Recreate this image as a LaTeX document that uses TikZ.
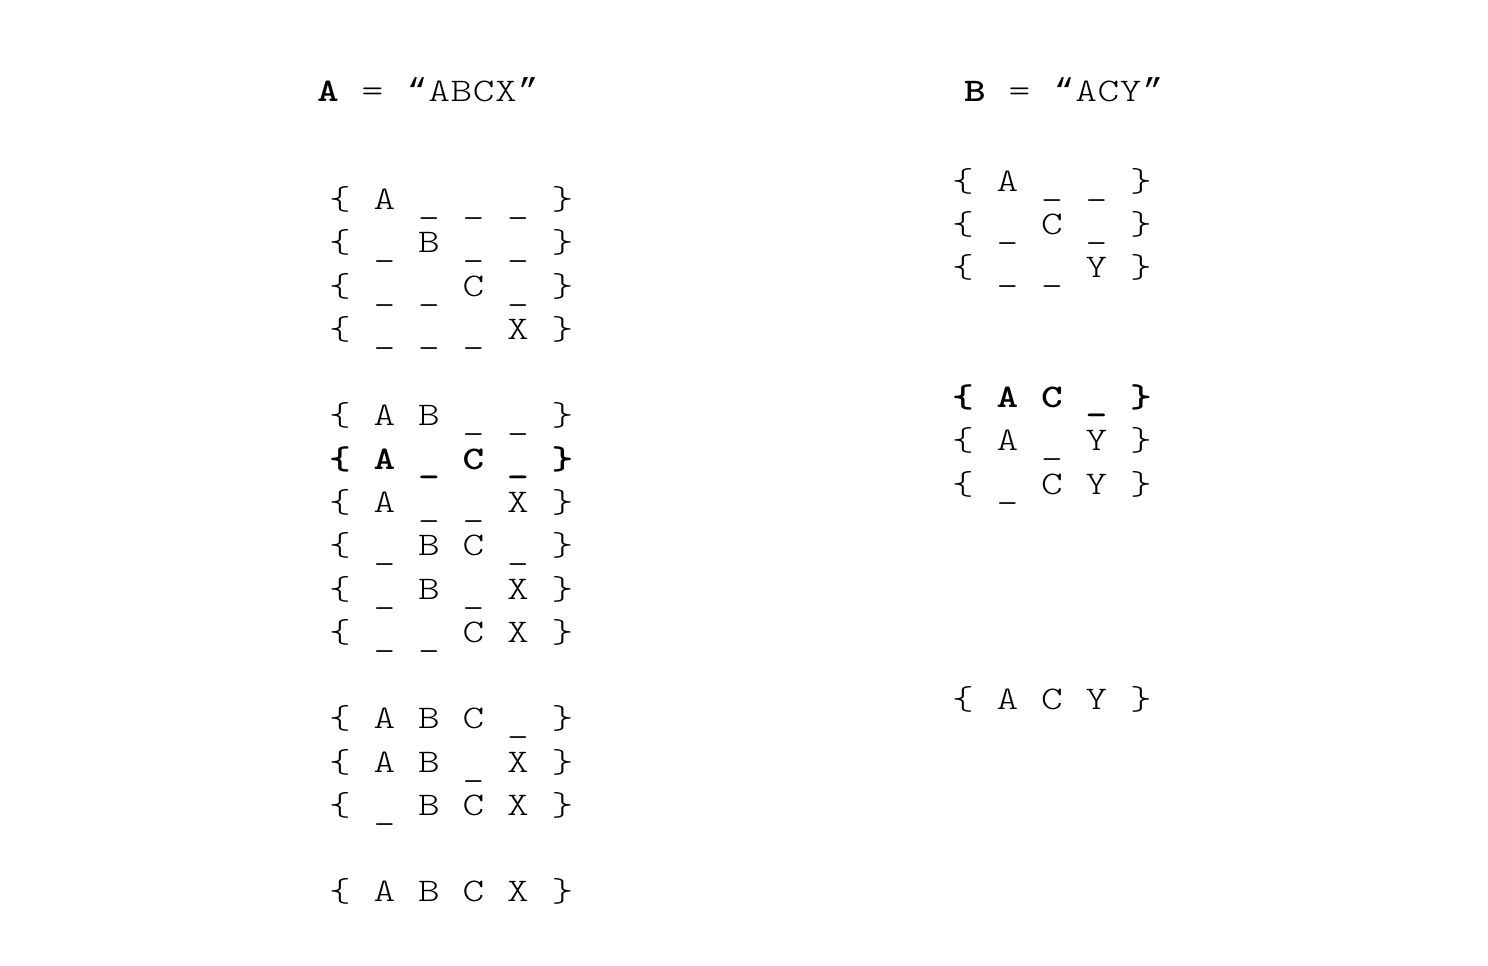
\documentclass[tikz,border=0pt]{standalone}
\usepackage{fontspec}
\newfontfamily\courfont[FakeStretch=1.25]{Latin Modern Mono Light}
\newfontfamily\quotefont{Liberation Mono}
\newcommand\us{\raisebox{-2pt}{\_}}
\newcommand\seqrow[5][]{%
  \foreach \c [count=\i from 0] in {#5}
    \node[ch,#1] (#2-\i) at (#3+44.5*\i,#4) {\c};}
\newcommand\headrow[4]{%
  \foreach \c [count=\i from 0] in {#4}
    \node[ch] (#1-\i) at (#2+22.25*\i,#3) {\c};}
\begin{document}
\begin{tikzpicture}[x=0.5pt,y=-0.5pt,
  ch/.style={anchor=base,inner sep=0pt,outer sep=0pt,font=\courfont\fontsize{16.5}{20}\selectfont},
  strong/.style={font=\courfont\bfseries\fontsize{16.5}{20}\selectfont}]
\useasboundingbox[fill=white] (0,0) rectangle (1488,965);
% headers
\node[ch,strong] (hA) at (328,101) {A};
\node[ch] (eqA) at (372.5,101) {=};
\headrow{qA}{417}{101}{{\quotefont“},A,B,C,X,{\quotefont”}}
\node[ch,strong] (hB) at (975,101) {B};
\node[ch] (eqB) at (1019.5,101) {=};
\headrow{qB}{1064}{101}{{\quotefont“},A,C,Y,{\quotefont”}}
% left column
\seqrow{a1}{340}{209.5}{\{,A,\us,\us,\us,\}}
\seqrow{a2}{340}{252.5}{\{,\us,B,\us,\us,\}}
\seqrow{a3}{340}{296}{\{,\us,\us,C,\us,\}}
\seqrow{a4}{340}{339}{\{,\us,\us,\us,X,\}}
\seqrow{a5}{340}{425}{\{,A,B,\us,\us,\}}
\seqrow[strong]{a6}{340}{469}{\{,A,\us,C,\us,\}}
\seqrow{a7}{340}{512}{\{,A,\us,\us,X,\}}
\seqrow{a8}{340}{555}{\{,\us,B,C,\us,\}}
\seqrow{a9}{340}{599}{\{,\us,B,\us,X,\}}
\seqrow{a10}{340}{642}{\{,\us,\us,C,X,\}}
\seqrow{a11}{340}{728}{\{,A,B,C,\us,\}}
\seqrow{a12}{340}{772}{\{,A,B,\us,X,\}}
\seqrow{a13}{340}{815}{\{,\us,B,C,X,\}}
\seqrow{a14}{340}{901}{\{,A,B,C,X,\}}
% right column
\seqrow{b1}{963}{191}{\{,A,\us,\us,\}}
\seqrow{b2}{963}{234}{\{,\us,C,\us,\}}
\seqrow{b3}{963}{277}{\{,\us,\us,Y,\}}
\seqrow[strong]{b4}{963}{407}{\{,A,C,\us,\}}
\seqrow{b5}{963}{450}{\{,A,\us,Y,\}}
\seqrow{b6}{963}{494}{\{,\us,C,Y,\}}
\seqrow{b7}{963}{709}{\{,A,C,Y,\}}
\end{tikzpicture}
\end{document}
